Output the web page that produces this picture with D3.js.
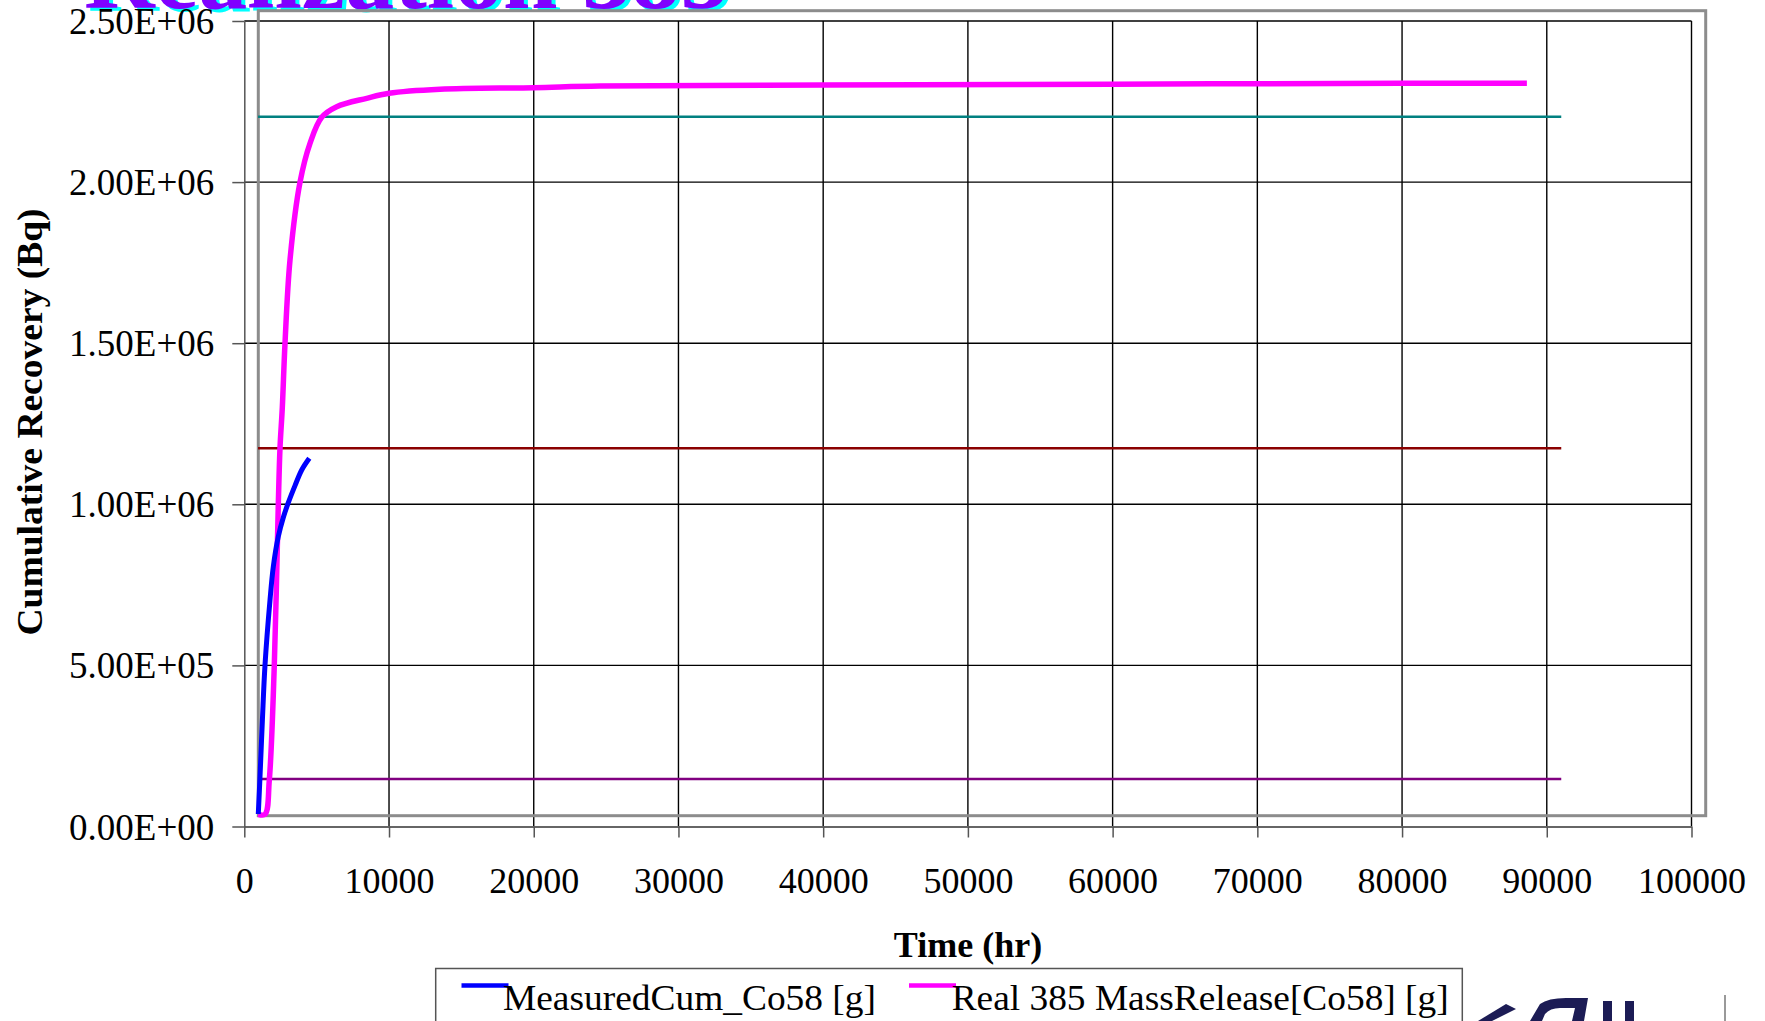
<!DOCTYPE html>
<html>
<head>
<meta charset="utf-8">
<script src="https://cdn.jsdelivr.net/npm/d3@7"></script>
<style>
  html, body { margin: 0; padding: 0; background: #ffffff; }
  svg { display: block; }
  text { font-family: "Liberation Serif", "Times New Roman", serif; }
</style>
</head>
<body>
<svg id="chart" width="1765" height="1021"></svg>
<script>
// ---------------- data ----------------
const titleText = "Realization 385";
const xTickValues = [0, 10000, 20000, 30000, 40000, 50000, 60000, 70000, 80000, 90000, 100000];
const xTickLabels = ["0", "10000", "20000", "30000", "40000", "50000", "60000", "70000", "80000", "90000", "100000"];
const yTickValues = [0, 500000, 1000000, 1500000, 2000000, 2500000];
const yTickLabels = ["0.00E+00", "5.00E+05", "1.00E+06", "1.50E+06", "2.00E+06", "2.50E+06"];
const xAxisTitle = "Time (hr)";
const yAxisTitle = "Cumulative Recovery (Bq)";

// MeasuredCum_Co58 [g]
const measuredTime  = [967, 1085, 1250, 1431, 1777, 2004, 2350, 2700, 3041, 3504, 3967, 4492];
const measuredValue = [38800, 154600, 330000, 501200, 703000, 806300, 900000, 960000, 1005000, 1058000, 1106500, 1142800];

// Real 385 MassRelease[Co58] [g]
const realTime  = [967, 1431, 1728, 2073, 2350, 2467, 2626, 2813, 3158, 3849, 4540, 5349, 6385, 8459, 10000, 13525, 20000, 24582, 40000, 60000, 79866, 88625];
const realValue = [37900, 37900, 144300, 501200, 1000000, 1174700, 1300000, 1499700, 1758200, 1999400, 2120400, 2201100, 2234000, 2260100, 2275600, 2288000, 2293000, 2298000, 2301000, 2304000, 2306600, 2306600];

// horizontal reference lines
const refNames  = ["upper", "middle", "lower"];
const refValues = [2203000, 1174000, 147400];
const refStart  = [950, 950, 950];
const refEnd    = [91000, 91000, 91000];
const refColors = ["#008080", "#8b0000", "#800080"];

const seriesNames  = ["MeasuredCum_Co58 [g]", "Real 385 MassRelease[Co58] [g]"];
const seriesColors = ["#0000ff", "#ff00ff"];

// ---------------- layout ----------------
const svg = d3.select("#chart");
const plot = { left: 244.3, right: 1691.5, top: 21, bottom: 826.5 };

const x = d3.scaleLinear().domain([0, 100000]).range([plot.left, plot.right]);
const y = d3.scaleLinear().domain([0, 2500000]).range([plot.bottom, plot.top]);

// title (cut off at top, WordArt style with cyan shadow)
const titleG = svg.append("g");
titleG.append("text").attr("x", 88).attr("y", 11)
  .attr("font-size", 98).attr("font-weight", "bold")
  .attr("fill", "#00ffff").text(titleText);
titleG.append("text").attr("x", 84).attr("y", 8)
  .attr("font-size", 98).attr("font-weight", "bold")
  .attr("fill", "#8000ff").text(titleText);

// gridlines
const grid = svg.append("g");
grid.selectAll("line.h").data(yTickValues.filter(v => v > 0)).enter().append("line")
  .attr("x1", plot.left).attr("x2", plot.right)
  .attr("y1", d => y(d)).attr("y2", d => y(d))
  .attr("stroke", "#000").attr("stroke-width", 1.4);
grid.selectAll("line.v").data(xTickValues.filter(v => v > 0)).enter().append("line")
  .attr("y1", plot.top).attr("y2", plot.bottom)
  .attr("x1", d => x(d)).attr("x2", d => x(d))
  .attr("stroke", "#000").attr("stroke-width", 1.4);

// axes
const xAxis = d3.axisBottom(x).tickValues(xTickValues).tickFormat((d, i) => xTickLabels[i]).tickSize(11).tickSizeOuter(0);
const yAxis = d3.axisLeft(y).tickValues(yTickValues).tickFormat((d, i) => yTickLabels[i]).tickSize(12).tickSizeOuter(0);

const gx = svg.append("g").attr("transform", `translate(0,${plot.bottom})`).call(xAxis);
gx.attr("font-family", null);
gx.select(".domain").attr("stroke", "#666").attr("stroke-width", 2);
gx.selectAll(".tick line").attr("stroke", "#555").attr("stroke-width", 1.5);
gx.selectAll(".tick text").attr("font-family", "Liberation Serif").attr("font-size", 36)
  .attr("fill", "#000").attr("dy", null).attr("y", 66);

const gy = svg.append("g").attr("transform", `translate(${plot.left},0)`).call(yAxis);
gy.attr("font-family", null);
gy.select(".domain").attr("stroke", "#555").attr("stroke-width", 1.5);
gy.selectAll(".tick line").attr("stroke", "#555").attr("stroke-width", 1.5);
gy.selectAll(".tick text").attr("font-family", "Liberation Serif").attr("font-size", 37)
  .attr("fill", "#000").attr("x", -30).attr("dy", "0.34em");

// overlapping grey frame of the inner chart
svg.append("rect")
  .attr("x", 258.3).attr("y", 10.7)
  .attr("width", 1705.7 - 258.3).attr("height", 815.7 - 10.7)
  .attr("fill", "none").attr("stroke", "#8c8c8c").attr("stroke-width", 3);

// reference lines
svg.append("g").selectAll("line").data(refNames).enter().append("line")
  .attr("x1", (d, i) => x(refStart[i])).attr("x2", (d, i) => x(refEnd[i]))
  .attr("y1", (d, i) => y(refValues[i])).attr("y2", (d, i) => y(refValues[i]))
  .attr("stroke", (d, i) => refColors[i]).attr("stroke-width", 2.5);

// series
const realData = realTime.map((t, i) => [t, realValue[i]]);
const measData = measuredTime.map((t, i) => [t, measuredValue[i]]);
const lineGen = d3.line().x(d => x(d[0])).y(d => y(d[1])).curve(d3.curveCatmullRom.alpha(0.5));

svg.append("path").datum(realData).attr("d", lineGen)
  .attr("fill", "none").attr("stroke", seriesColors[1]).attr("stroke-width", 5.5);
svg.append("path").datum(measData).attr("d", lineGen)
  .attr("fill", "none").attr("stroke", seriesColors[0]).attr("stroke-width", 5);

// axis titles
svg.append("text").attr("x", 968).attr("y", 957)
  .attr("text-anchor", "middle").attr("font-size", 36).attr("font-weight", "bold")
  .text(xAxisTitle);
svg.append("text").attr("transform", `translate(42,${422}) rotate(-90)`)
  .attr("text-anchor", "middle").attr("font-size", 36).attr("font-weight", "bold")
  .attr("textLength", 427).attr("lengthAdjust", "spacingAndGlyphs")
  .text(yAxisTitle);

// legend
const leg = svg.append("g");
leg.append("rect").attr("x", 435.7).attr("y", 968.5).attr("width", 1462.3 - 435.7).attr("height", 80)
  .attr("fill", "#fff").attr("stroke", "#555").attr("stroke-width", 1.5);
const legX = [461.5, 909];
const legTextX = [503, 951.7];
const legTextW = [373, 497];
seriesNames.forEach((n, i) => {
  leg.append("line").attr("x1", legX[i]).attr("x2", legX[i] + 47).attr("y1", 985.5).attr("y2", 985.5)
    .attr("stroke", seriesColors[i]).attr("stroke-width", 4.5);
  leg.append("text").attr("x", legTextX[i]).attr("y", 1010).attr("font-size", 36)
    .attr("textLength", legTextW[i]).attr("lengthAdjust", "spacingAndGlyphs")
    .text(n);
});

// partial logo at bottom-right
const logo = svg.append("g").attr("fill", "#1c1c55");
logo.append("path").attr("d", "M1478,1021 L1506,1004 L1516,1009 L1492,1021 Z");
logo.append("path").attr("d", "M1530,1021 L1540,1004 Q1548,998 1566,998 L1588,998 L1584,1021 L1572,1021 L1575,1008 L1560,1008 Q1550,1008 1545,1014 L1542,1021 Z");
logo.append("rect").attr("x", 1603).attr("y", 1001).attr("width", 9).attr("height", 20);
logo.append("rect").attr("x", 1625).attr("y", 1001).attr("width", 9).attr("height", 20);
svg.append("line").attr("x1", 1725).attr("x2", 1725).attr("y1", 995).attr("y2", 1021)
  .attr("stroke", "#999").attr("stroke-width", 2);
</script>
</body>
</html>
